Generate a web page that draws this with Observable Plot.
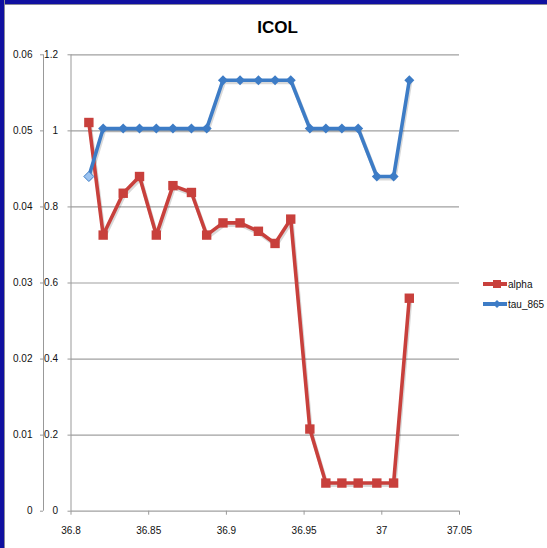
<!DOCTYPE html>
<html>
<head>
<meta charset="utf-8">
<script src="https://cdn.jsdelivr.net/npm/d3@7"></script>
<script src="https://cdn.jsdelivr.net/npm/@observablehq/plot@0.6"></script>
<style>
  html, body { margin: 0; padding: 0; background: #fff; }
  #wrap { position: relative; width: 547px; height: 548px; overflow: hidden; background: #fff; font-family: "Liberation Sans", Arial, sans-serif; }
  #chart { position: absolute; left: 0; top: 0; }
  .bt { position: absolute; left: 0; top: 0; width: 547px; height: 4px; background: #1010a0; border-bottom: 1px solid #8a8a9a; }
  .bl { position: absolute; left: 0; top: 0; width: 4px; height: 548px; background: #1010a0; border-right: 1px solid #8a8a9a; }
  #title { position: absolute; left: 0; width: 555px; top: 18px; text-align: center; font-family: "Liberation Sans Narrow", "Liberation Sans", Arial, sans-serif; font-weight: bold; font-size: 17px; color: #000; }
  .leg { position: absolute; left: 483px; font-size: 10px; color: #111; display: flex; align-items: center; font-family: "Liberation Sans Narrow", "Liberation Sans", Arial, sans-serif; }
  .leg svg { margin-right: 1px; }
</style>
</head>
<body>
<div id="wrap">
  <div id="chart"></div>
  <div class="bt"></div>
  <div class="bl"></div>
  <div id="title">ICOL</div>
  <div class="leg" style="top:278px"><svg width="24" height="12"><line x1="0" y1="6" x2="24" y2="6" stroke="#c8403c" stroke-width="4"/><rect x="10" y="2" width="8" height="8" fill="#c8403c"/></svg>alpha</div>
  <div class="leg" style="top:298px"><svg width="24" height="12"><line x1="0" y1="6" x2="24" y2="6" stroke="#3d7cc6" stroke-width="4"/><path d="M14,2 L18,6 L14,10 L10,6Z" fill="#3d7cc6"/></svg>tau_865</div>
</div>
<script>
// Data
const lat = [36.8115, 36.8207, 36.8336, 36.8441, 36.8549, 36.8656, 36.8775, 36.8873, 36.8978, 36.9088,
             36.9206, 36.9313, 36.9414, 36.9537, 36.9640, 36.9743, 36.9848, 36.9968, 37.0076, 37.0177];
const alpha = [0.0511, 0.0363, 0.0418, 0.0440, 0.0363, 0.0428, 0.0419, 0.0363, 0.0379, 0.0379,
               0.0368, 0.0352, 0.0384, 0.0108, 0.0037, 0.0037, 0.0037, 0.0037, 0.0037, 0.0280];
const tau865 = [0.88, 1.006, 1.006, 1.006, 1.006, 1.006, 1.006, 1.006, 1.133, 1.133,
                1.133, 1.133, 1.133, 1.006, 1.006, 1.006, 1.006, 0.88, 0.88, 1.133];
const xTicks = [36.8, 36.85, 36.9, 36.95, 37, 37.05];
const tauTicks = [0, 0.2, 0.4, 0.6, 0.8, 1, 1.2];
const alphaTicks = [0, 0.01, 0.02, 0.03, 0.04, 0.05, 0.06];

const ratio = 1.2 / 0.06; // alpha axis 0..0.06 aligned with tau axis 0..1.2
const rows = lat.map((x, i) => ({x, alpha: alpha[i], alphaS: alpha[i] * ratio, tau: tau865[i], first: i === 0}));

const diamond = {
  draw(ctx, size) {
    const h = Math.sqrt(size / 2);
    ctx.moveTo(0, -h); ctx.lineTo(h, 0); ctx.lineTo(0, h); ctx.lineTo(-h, 0); ctx.closePath();
  }
};

const red = "#c8403c", blue = "#3d7cc6";

const chart = Plot.plot({
  width: 547,
  height: 548,
  marginLeft: 70.5,
  marginRight: 88,
  marginTop: 54.3,
  marginBottom: 37.3,
  style: {fontFamily: "'Liberation Sans Narrow', 'Liberation Sans', Arial, sans-serif", fontSize: "10px", color: "#111", background: "transparent"},
  x: {domain: [36.8, 37.05], label: null},
  y: {domain: [0, 1.2], label: null},
  marks: [
    Plot.gridY(tauTicks, {stroke: "#a0a0a0", strokeOpacity: 1, strokeWidth: 1.2}),
    Plot.ruleX([36.8], {y1: 0, y2: 1.2, stroke: "#999"}),
    Plot.ruleX([36.8], {y1: 0, y2: 1.2, stroke: "#999", dx: -27.5}),
    Plot.axisY(tauTicks, {anchor: "left", label: null, tickSize: 3, tickPadding: 10, stroke: "#999", tickFormat: d => String(d)}),
    Plot.axisY(tauTicks, {anchor: "left", label: null, tickSize: 3, tickPadding: 8, stroke: "#999", dx: -27.5, tickFormat: (d, i) => String(alphaTicks[i])}),
    Plot.axisX(xTicks, {anchor: "bottom", label: null, tickSize: 4, tickPadding: 12, stroke: "#999", tickFormat: d => String(d)}),
    // soft shadows
    Plot.lineY(rows, {x: "x", y: "alphaS", stroke: "#000", strokeOpacity: 0.15, strokeWidth: 4, dx: 1, dy: 2}),
    Plot.lineY(rows, {x: "x", y: "tau", stroke: "#000", strokeOpacity: 0.15, strokeWidth: 4, dx: 1, dy: 2}),
    // series
    Plot.lineY(rows, {x: "x", y: "alphaS", stroke: red, strokeWidth: 3.6}),
    Plot.dot(rows, {x: "x", y: "alphaS", symbol: "square", r: 5.3, fill: red, stroke: null}),
    Plot.lineY(rows, {x: "x", y: "tau", stroke: blue, strokeWidth: 3.6}),
    Plot.dot(rows.filter(d => !d.first), {x: "x", y: "tau", symbol: diamond, r: 4, fill: blue, stroke: null}),
    Plot.dot(rows.filter(d => d.first), {x: "x", y: "tau", symbol: diamond, r: 4, fill: "#9cc3f0", stroke: blue, strokeWidth: 1})
  ]
});
document.getElementById("chart").appendChild(chart);
</script>
</body>
</html>
